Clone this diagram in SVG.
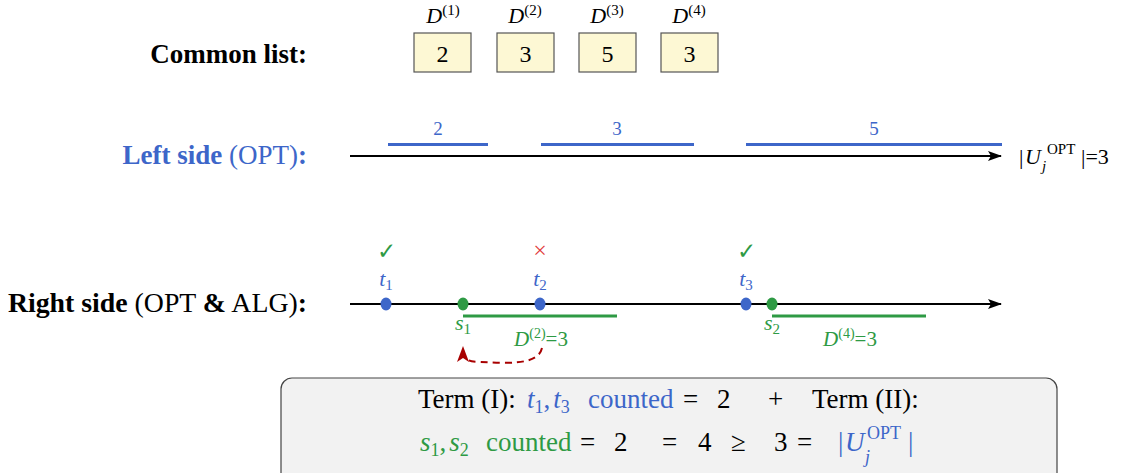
<svg xmlns="http://www.w3.org/2000/svg" width="1125" height="473" viewBox="0 0 1125 473" font-family="'Liberation Serif','Times New Roman',serif">
<defs>
<style>
.t{font-family:"Liberation Serif","Times New Roman",serif;}
.b{font-weight:bold;}
.i{font-style:italic;}
.blue{fill:#3d66c9;}
.green{fill:#2e9a44;}
.box{fill:#fdf8d4;stroke:#555;stroke-width:1.2;}
.axis{stroke:#000;stroke-width:2;fill:none;}
.bbar{stroke:#3d66c9;stroke-width:3;}
.gbar{stroke:#2e9a44;stroke-width:3;}
</style>
<marker id="ah" viewBox="0 0 14 10" refX="13" refY="5" markerWidth="14" markerHeight="10" markerUnits="userSpaceOnUse" orient="auto">
<path d="M0,0 L14,5 L0,10 L3,5 Z" fill="#000"/>
</marker>
<marker id="rh" viewBox="0 0 16 12" refX="15" refY="6" markerWidth="16" markerHeight="12" markerUnits="userSpaceOnUse" orient="auto">
<path d="M0,0 L16,6 L0,12 L4,6 Z" fill="#a80000"/>
</marker>
</defs>

<g id="labels" class="t" font-size="27">
<text x="307" y="63" text-anchor="end" class="b">Common list:</text>
<text x="307" y="164" text-anchor="end" class="blue"><tspan class="b">Left side </tspan><tspan>(OPT)</tspan><tspan class="b">:</tspan></text>
<text x="307" y="312" text-anchor="end" font-size="27.8"><tspan class="b">Right side </tspan><tspan>(OPT </tspan><tspan class="b">&amp;</tspan><tspan> ALG)</tspan><tspan class="b">:</tspan></text>
</g>

<g id="common-list" class="t">
<g id="d1"><rect class="box" x="414" y="33" width="57" height="39"/><text x="442.5" y="62" font-size="24" text-anchor="middle">2</text>
<text x="443" y="23" text-anchor="middle" font-size="22"><tspan class="i">D</tspan><tspan font-size="15" dy="-8">(1)</tspan></text></g>
<g id="d2"><rect class="box" x="497" y="33" width="57" height="39"/><text x="525.5" y="62" font-size="24" text-anchor="middle">3</text>
<text x="525" y="23" text-anchor="middle" font-size="22"><tspan class="i">D</tspan><tspan font-size="15" dy="-8">(2)</tspan></text></g>
<g id="d3"><rect class="box" x="579" y="33" width="57" height="39"/><text x="607.5" y="62" font-size="24" text-anchor="middle">5</text>
<text x="607" y="23" text-anchor="middle" font-size="22"><tspan class="i">D</tspan><tspan font-size="15" dy="-8">(3)</tspan></text></g>
<g id="d4"><rect class="box" x="661" y="33" width="57" height="39"/><text x="689.5" y="62" font-size="24" text-anchor="middle">3</text>
<text x="689" y="23" text-anchor="middle" font-size="22"><tspan class="i">D</tspan><tspan font-size="15" dy="-8">(4)</tspan></text></g>
</g>

<g id="connectors">
<line class="axis" x1="350" y1="156" x2="1001" y2="156" marker-end="url(#ah)"/>
<line class="axis" x1="350" y1="304" x2="1001" y2="304" marker-end="url(#ah)"/>
<path d="M542,348 C538,366 505,363 480,362 C468,362 463,360 463,347" fill="none" stroke="#a80000" stroke-width="2" stroke-dasharray="7,5" marker-end="url(#rh)"/>
</g>

<g id="left-side" class="t">
<line class="bbar" x1="388" y1="144.5" x2="488" y2="144.5"/>
<line class="bbar" x1="541" y1="144.5" x2="694" y2="144.5"/>
<line class="bbar" x1="746" y1="144.5" x2="1002" y2="144.5"/>
<text x="438" y="135" font-size="19" text-anchor="middle" class="blue">2</text>
<text x="617" y="135" font-size="19" text-anchor="middle" class="blue">3</text>
<text x="874" y="135" font-size="19" text-anchor="middle" class="blue">5</text>
<g id="uopt-left" font-size="22">
<text x="1019" y="164">|</text>
<text x="1025" y="164" class="i">U</text>
<text x="1047" y="154" font-size="15">OPT</text>
<text x="1042" y="171" font-size="15" class="i">j</text>
<text x="1081" y="164">|=3</text>
</g>
</g>

<g id="right-side" class="t">
<line class="gbar" x1="463" y1="316" x2="617" y2="316"/>
<line class="gbar" x1="772" y1="316" x2="926" y2="316"/>
<g id="t1"><ellipse cx="386" cy="304" rx="5.5" ry="6.5" fill="#3d66c9"/>
<text x="386" y="286" font-size="22" text-anchor="middle" class="blue"><tspan class="i">t</tspan><tspan font-size="15" dy="4">1</tspan></text>
<text x="386" y="259" font-size="23" text-anchor="middle" class="green">✓</text></g>
<g id="s1"><ellipse cx="463" cy="304" rx="5.5" ry="6.5" fill="#2e9a44"/>
<text x="463" y="330" font-size="22" text-anchor="middle" class="green"><tspan class="i">s</tspan><tspan font-size="15" dy="4">1</tspan></text></g>
<g id="t2"><ellipse cx="540" cy="304" rx="5.5" ry="6.5" fill="#3d66c9"/>
<text x="540" y="286" font-size="22" text-anchor="middle" class="blue"><tspan class="i">t</tspan><tspan font-size="15" dy="4">2</tspan></text>
<text x="540" y="258" font-size="24" text-anchor="middle" fill="#e23a3a">×</text></g>
<g id="t3"><ellipse cx="746" cy="304" rx="5.5" ry="6.5" fill="#3d66c9"/>
<text x="746" y="286" font-size="22" text-anchor="middle" class="blue"><tspan class="i">t</tspan><tspan font-size="15" dy="4">3</tspan></text>
<text x="746" y="259" font-size="23" text-anchor="middle" class="green">✓</text></g>
<g id="s2"><ellipse cx="772" cy="304" rx="5.5" ry="6.5" fill="#2e9a44"/>
<text x="772" y="330" font-size="22" text-anchor="middle" class="green"><tspan class="i">s</tspan><tspan font-size="15" dy="4">2</tspan></text></g>
<text x="541" y="346" font-size="21" text-anchor="middle" class="green"><tspan class="i">D</tspan><tspan font-size="14" dy="-8">(2)</tspan><tspan dy="8">=3</tspan></text>
<text x="850" y="346" font-size="21" text-anchor="middle" class="green"><tspan class="i">D</tspan><tspan font-size="14" dy="-8">(4)</tspan><tspan dy="8">=3</tspan></text>
</g>

<g id="summary" class="t" font-size="27">
<rect x="281" y="378" width="776" height="110" rx="11" fill="#f2f2f2" stroke="#444" stroke-width="1.2"/>
<text x="418" y="408">Term (I):</text>
<text x="527" y="408" class="blue"><tspan class="i">t</tspan><tspan font-size="18" dy="5">1</tspan><tspan dy="-5">,</tspan><tspan class="i" dx="3">t</tspan><tspan font-size="18" dy="5">3</tspan></text>
<text x="588" y="408" class="blue">counted</text>
<text x="683" y="408">=</text>
<text x="717" y="408">2</text>
<text x="768" y="408">+</text>
<text x="812" y="408">Term (II):</text>
<text x="420" y="451" class="green"><tspan class="i">s</tspan><tspan font-size="18" dy="5">1</tspan><tspan dy="-5">,</tspan><tspan class="i" dx="3">s</tspan><tspan font-size="18" dy="5">2</tspan></text>
<text x="486" y="451" class="green">counted</text>
<text x="580" y="451">=</text>
<text x="614" y="451">2</text>
<text x="662" y="451">=</text>
<text x="698" y="451">4</text>
<text x="731" y="451">≥</text>
<text x="774" y="451">3</text>
<text x="797" y="451">=</text>
<g class="blue">
<text x="838" y="451">|</text>
<text x="845" y="451" class="i">U</text>
<text x="867" y="439" font-size="18">OPT</text>
<text x="865" y="463" font-size="18" class="i">j</text>
<text x="908" y="451">|</text>
</g>
</g>
</svg>
